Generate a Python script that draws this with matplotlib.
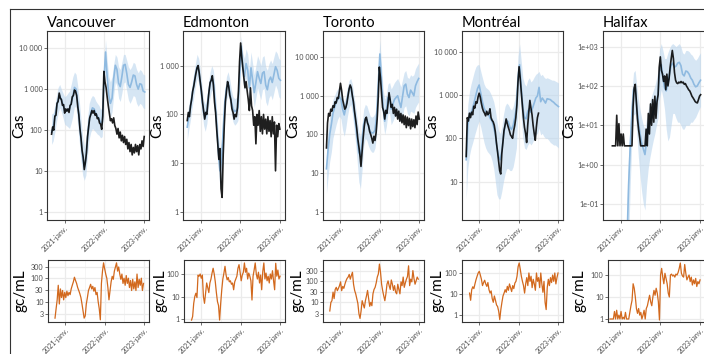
import numpy as np
import pandas as pd
import matplotlib
matplotlib.use("Agg")
import matplotlib.pyplot as plt
import matplotlib.dates as mdates
from matplotlib.lines import Line2D
from matplotlib.ticker import FixedLocator, FixedFormatter, NullLocator

plt.rcParams['font.family'] = ['Lato', 'DejaVu Sans']

cities = ["Vancouver", "Edmonton", "Toronto", "Montréal", "Halifax"]

# ---------------- Vancouver ----------------
van_case_start = "2020-09-03"
van_cases = [80, 120, 100, 220, 230, 450, 500, 800, 600, 560, 400, 420, 260, 330, 290, 330, 270, 400, 430, 650,
             700, 950, 880, 700, 380, 240, 110, 65, 32, 22, 11, 16, 28, 70, 120, 200, 240, 300, 260, 300,
             230, 250, 190, 200, 150, 140, 105, 220, 2700, 1500, 1100, 650, 400, 260, 170, 190, 150, 200, 130, 110,
             80, 110, 65, 90, 55, 75, 50, 70, 45, 60, 35, 50, 30, 45, 25, 38, 28, 45, 30, 42,
             25, 45, 35, 55, 40, 70]
van_fit_start = "2020-09-03"
van_fit = [90, 120, 200, 350, 550, 700, 550, 420, 300, 300, 310, 330, 450, 650, 1100, 1000, 450, 170, 60, 22,
           13, 20, 65, 170, 260, 350, 330, 260, 220, 190, 150, 160, 1500, 8000, 2000, 700, 450, 600, 1800, 3800,
           3000, 1400, 1150, 2000, 3800, 4000, 2400, 1300, 1100, 1500, 2200, 2100, 1300, 1000, 1350, 1300, 900, 850]
van_lo = [45, 55, 90, 160, 260, 350, 280, 200, 140, 130, 120, 110, 150, 220, 380, 350, 130, 50, 18, 8,
          6, 8, 25, 60, 90, 110, 100, 90, 80, 75, 65, 70, 600, 3500, 900, 300, 200, 280, 700, 1500,
          1200, 600, 500, 800, 1400, 1500, 900, 550, 450, 550, 700, 650, 450, 380, 450, 420, 350, 330]
van_hi = [250, 260, 400, 700, 1100, 1300, 1000, 800, 650, 700, 800, 900, 1300, 2000, 2600, 2300, 1200, 500, 180, 70,
          40, 60, 200, 450, 600, 700, 650, 520, 450, 400, 320, 350, 3500, 16000, 5000, 2000, 1500, 2000, 4000, 7000,
          6000, 3500, 3000, 4500, 7000, 7000, 5000, 3500, 3000, 3500, 4500, 4200, 3000, 2500, 3000, 2800, 2300, 2200]
van_ww_start = "2020-09-26"
van_ww = [2, 5, 12, 50, 8, 35, 15, 30, 12, 25, 15, 28, 18, 25, 20, 35, 50, 70, 110, 80,
          60, 40, 30, 22, 15, 8, 4, 2, 2.5, 8, 15, 30, 40, 55, 35, 45, 28, 40, 20, 25,
          10, 5, 1.7, 60, 200, 450, 250, 150, 100, 40, 12, 30, 70, 120, 90, 200, 300, 450, 200, 300,
          150, 90, 150, 60, 100, 50, 130, 60, 100, 40, 80, 30, 90, 35, 70, 30, 150, 40, 90, 50,
          100, 30, 60]

# ---------------- Edmonton ----------------
edm_case_start = "2020-08-31"
edm_cases = [75, 110, 90, 150, 200, 300, 380, 520, 700, 900, 1000, 700, 450, 300, 180, 120, 80, 110, 100, 180,
             300, 450, 500, 620, 400, 180, 110, 50, 25, 12, 20, 3, 2, 15, 60, 180, 300, 470, 380, 250,
             200, 130, 110, 80, 100, 90, 130, 300, 1200, 2900, 1500, 900, 550, 350, 470, 300, 200, 120, 350, 150,
             120, 60, 90, 25, 100, 60, 120, 45, 90, 40, 100, 50, 80, 40, 90, 45, 75, 35, 90, 40,
             70, 7, 60, 35, 65, 50]
edm_fit_start = "2020-08-31"
edm_fit = [55, 90, 140, 250, 400, 650, 950, 800, 450, 200, 110, 85, 120, 250, 420, 580, 450, 180, 60, 18,
           7, 12, 50, 180, 350, 450, 300, 180, 130, 115, 120, 140, 600, 2500, 900, 600, 1100, 800, 350, 900,
           500, 280, 450, 750, 550, 430, 700, 750, 400, 320, 500, 580, 450, 650, 950, 800, 550, 500]
edm_lo = [30, 50, 80, 140, 230, 380, 550, 450, 250, 110, 60, 45, 65, 140, 230, 320, 250, 90, 30, 8,
          3, 5, 25, 100, 200, 250, 170, 100, 70, 60, 65, 75, 350, 1400, 450, 300, 550, 400, 180, 450,
          250, 140, 220, 350, 260, 200, 320, 340, 180, 150, 220, 250, 200, 280, 400, 330, 230, 210]
edm_hi = [100, 160, 250, 420, 700, 1100, 1700, 1400, 800, 380, 200, 160, 220, 450, 750, 1000, 800, 350, 120, 40,
          18, 28, 100, 320, 600, 750, 520, 320, 230, 210, 220, 260, 1100, 4000, 1800, 1400, 2200, 1700, 800, 1900,
          1100, 650, 1000, 1600, 1300, 1000, 1500, 1600, 950, 800, 1100, 1300, 1100, 1500, 2000, 1800, 1400, 1300]
edm_ww_start = "2020-10-01"
edm_ww = [0.9, 1.3, 5, 10, 14, 9, 90, 80, 100, 65, 90, 10, 5, 14, 40, 25, 15, 40, 60, 110,
          180, 100, 45, 15, 6, 4, 0.9, 5, 20, 60, 110, 220, 90, 55, 70, 45, 50, 35, 40, 20,
          45, 60, 80, 180, 260, 120, 50, 90, 120, 310, 120, 180, 60, 110, 80, 50, 7, 80, 150, 310,
          100, 60, 120, 40, 90, 20, 130, 310, 60, 110, 50, 80, 40, 100, 60, 140, 50, 20, 300, 80,
          150, 60, 80]

# ---------------- Toronto ----------------
tor_case_start = "2020-08-24"
tor_cases = [45, 200, 350, 300, 450, 400, 550, 500, 700, 650, 900, 850, 1300, 2100, 1400, 800, 600, 450, 500, 650,
             1000, 1500, 1900, 1600, 1000, 700, 400, 250, 150, 80, 50, 30, 15, 35, 80, 160, 250, 280, 200, 170,
             120, 100, 80, 60, 90, 70, 110, 250, 900, 5500, 3000, 1200, 500, 400, 250, 420, 350, 600, 1200, 800,
             500, 600, 350, 500, 300, 450, 250, 400, 220, 350, 200, 320, 180, 300, 150, 280, 170, 260, 140, 250,
             160, 240, 150, 300, 180, 380, 250]
tor_fit_start = "2020-08-24"
tor_fit = [13, 40, 100, 180, 350, 500, 700, 800, 950, 800, 450, 320, 500, 900, 1500, 1700, 1000, 450, 200, 80,
           35, 27, 60, 180, 260, 240, 160, 120, 110, 110, 130, 300, 2000, 12000, 2500, 500, 220, 400, 900, 900,
           450, 600, 800, 900, 1000, 700, 500, 950, 1800, 2000, 1100, 900, 1400, 1200, 1000, 1800, 2300, 2800]
tor_lo = [3, 8, 20, 35, 80, 120, 180, 250, 300, 250, 130, 90, 150, 300, 500, 600, 350, 150, 60, 20,
          6, 4, 12, 50, 80, 70, 50, 40, 35, 35, 45, 100, 700, 4000, 1000, 200, 100, 160, 350, 350,
          180, 220, 280, 300, 320, 250, 200, 300, 500, 550, 350, 300, 400, 380, 350, 500, 600, 700]
tor_hi = [50, 150, 300, 500, 800, 1000, 1300, 1500, 1800, 1600, 1000, 700, 1000, 1700, 2500, 2800, 2000, 1000, 500, 250,
          120, 90, 180, 450, 600, 550, 400, 300, 280, 300, 350, 700, 4500, 28000, 6000, 1500, 800, 1100, 2000, 2200,
          1500, 1800, 2200, 2500, 2800, 2200, 1700, 2600, 4000, 4500, 3000, 2800, 3500, 3200, 3500, 5000, 6000, 7000]
tor_ww_start = "2020-09-24"
tor_ww = [4, 10, 12, 30, 15, 40, 50, 35, 45, 60, 90, 35, 55, 45, 70, 100, 130, 150, 200, 120,
          180, 250, 70, 36, 25, 15, 9, 3, 1.8, 4, 12, 8, 5.5, 12, 20, 36, 15, 6.6, 10, 7,
          25, 40, 50, 80, 150, 210, 600, 250, 70, 35, 20, 12, 25, 70, 100, 60, 40, 110, 70, 36,
          60, 30, 25, 70, 40, 25, 90, 60, 150, 50, 80, 120, 160, 500, 60, 120, 90, 300, 130, 70,
          100, 150, 120]

# ---------------- Montréal ----------------
mtl_case_start = "2020-08-31"
mtl_cases = [38, 300, 250, 380, 300, 400, 350, 550, 500, 700, 650, 900, 1100, 900, 650, 500, 420, 380, 330, 420,
             350, 380, 480, 300, 260, 240, 200, 140, 80, 50, 30, 18, 15, 45, 80, 150, 200, 280, 220, 180,
             150, 120, 110, 100, 150, 200, 300, 600, 2000, 4500, 2500, 1200, 600, 300, 180, 130, 80, 200, 400, 750,
             500, 350, 200, 130, 90, 180, 300, 380]
mtl_fit_start = "2020-08-31"
mtl_fit = [32, 200, 330, 380, 500, 700, 1000, 1400, 1700, 1100, 700, 500, 420, 380, 340, 280, 250, 180, 120, 60,
           38, 32, 50, 110, 200, 260, 240, 180, 160, 200, 300, 500, 2500, 5000, 1500, 500, 300, 280, 420, 480,
           400, 500, 650, 850, 950, 1500, 700, 850, 750, 650, 820, 800, 780, 720, 680, 620, 580, 540]
mtl_lo = [4, 20, 40, 60, 80, 110, 150, 200, 250, 180, 120, 80, 60, 50, 45, 40, 30, 20, 10, 5,
          4, 4, 6, 10, 15, 20, 20, 18, 18, 22, 35, 60, 400, 1200, 300, 100, 60, 55, 70, 80,
          70, 80, 100, 120, 130, 170, 120, 130, 110, 100, 100, 90, 80, 75, 70, 70, 65, 60]
mtl_hi = [90, 600, 1200, 1800, 2500, 3500, 4500, 5000, 5000, 3500, 2500, 1800, 1500, 1400, 1300, 1100, 900, 700, 450, 250,
          150, 130, 180, 350, 550, 650, 600, 500, 450, 550, 800, 1500, 8000, 15000, 6000, 2500, 1800, 1600, 2200, 2500,
          2000, 2200, 2600, 3000, 3200, 3500, 2800, 3000, 2600, 2400, 2500, 2400, 2300, 2200, 2200, 2100, 2000, 1900]
mtl_ww_start = "2020-10-01"
mtl_ww = [11, 5, 16, 22, 18, 30, 48, 70, 100, 120, 80, 50, 25, 35, 45, 30, 23, 35, 16, 11,
          14, 6, 4, 8, 5, 3, 2.5, 1.5, 0.6, 1.8, 4, 8, 11, 16, 12, 23, 15, 30, 20, 13,
          25, 18, 33, 40, 70, 200, 300, 150, 70, 40, 25, 11, 30, 60, 25, 100, 40, 70, 20, 50,
          30, 15, 100, 40, 60, 20, 100, 30, 12, 40, 4, 1.8, 20, 50, 25, 60, 35, 80, 40, 100,
          30, 60, 100]

# ---------------- Halifax ----------------
hfx_case_start = "2020-10-17"
hfx_cases = [3, 3, 3, 3, 18, 3, 11, 3, 6, 3, 6, 3, 3, 3, 3, 3, 3, 3, 3, 30,
             90, 110, 40, 15, 8, 5, 3, 3, 3, 3, 3, 8, 3, 20, 6, 35, 10, 45, 12, 55,
             15, 40, 60, 300, 550, 250, 200, 130, 180, 80, 200, 100, 150, 300, 500, 800, 500, 220, 140, 120,
             115, 125, 120, 130, 120, 125, 110, 115, 100, 90, 80, 75, 65, 55, 50, 45, 40, 38, 37, 45,
             55, 60]
hfx_fit_start = "2021-02-28"
hfx_fit = [0.01, 0.3, 3, 20, 80, 90, 30, 12, 6, 3.5, 2.5, 1.8, 4, 8, 12, 16, 22, 30, 40, 60,
           250, 350, 160, 90, 75, 120, 200, 330, 380, 300, 320, 380, 400, 330, 200, 180, 240, 230, 200, 160,
           140, 110, 95, 100, 120, 140]
hfx_lo = [0.001, 0.01, 0.3, 4, 18, 20, 6, 1.5, 0.5, 0.2, 0.1, 0.07, 0.3, 0.8, 1.5, 2.5, 4, 6, 10, 15,
          50, 80, 50, 25, 8, 4, 5, 10, 20, 20, 15, 12, 12, 10, 8, 8, 10, 10, 10, 12,
          12, 14, 16, 20, 25, 30]
hfx_hi = [0.1, 2, 12, 70, 220, 250, 100, 45, 25, 15, 10, 8, 15, 25, 40, 55, 75, 100, 150, 250,
          900, 1200, 800, 500, 500, 700, 900, 1100, 1200, 1100, 1000, 1100, 1200, 1000, 700, 650, 800, 800, 750, 650,
          600, 500, 450, 500, 600, 700]
hfx_ww_start = "2020-10-02"
hfx_ww = [1, 1, 1, 1, 2.2, 1, 2.5, 1, 1.5, 1, 2.2, 1, 1.2, 1, 2, 1, 1, 1, 2, 4,
          7, 40, 25, 10, 3, 1.8, 3, 1.5, 2, 1, 1.5, 2.5, 1, 3, 4, 7, 12, 6, 4, 10,
          20, 12, 25, 15, 6, 0.9, 100, 200, 80, 40, 120, 70, 40, 15, 10, 100, 110, 90, 100, 80,
          110, 100, 130, 200, 350, 120, 90, 80, 300, 120, 60, 80, 100, 50, 80, 35, 60, 40, 70, 30,
          50, 40, 60]

# axis ticks and limits
top_ticks = [[1, 10, 100, 1000, 10000], [1, 10, 100, 1000], [1, 10, 100, 1000, 10000],
             [10, 100, 1000, 10000], [0.1, 1, 10, 100, 1000]]
top_labels = [["1", "10", "100", "1 000", "10 000"], ["1", "10", "100", "1 000"],
              ["1", "10", "100", "1 000", "10 000"], ["10", "100", "1 000", "10 000"],
              ["1e-01", "1e+00", "1e+01", "1e+02", "1e+03"]]
top_ylim = [(0.65, 26000), (0.69, 5100), (0.62, 47000), (1.3, 30000), (0.039, 2500)]

bot_ticks = [[3, 10, 30, 100, 300], [1, 10, 100], [3, 10, 30, 100, 300], [1, 10, 100], [1, 10, 100]]
bot_labels = [["3", "10", "30", "100", "300"], ["1", "10", "100"], ["3", "10", "30", "100", "300"],
              ["1", "10", "100"], ["1", "10", "100"]]
bot_ylim = [(1.37, 595), (0.74, 419), (1.23, 930), (0.46, 416), (0.73, 481)]

year_ticks = ["2021-01-01", "2022-01-01", "2023-01-01"]
year_labels = ["2021-janv.", "2022-janv.", "2023-janv."]
mid_ticks = ["2021-07-01", "2022-07-01"]

case_data = [
    (van_case_start, van_cases, van_fit_start, van_fit, van_lo, van_hi),
    (edm_case_start, edm_cases, edm_fit_start, edm_fit, edm_lo, edm_hi),
    (tor_case_start, tor_cases, tor_fit_start, tor_fit, tor_lo, tor_hi),
    (mtl_case_start, mtl_cases, mtl_fit_start, mtl_fit, mtl_lo, mtl_hi),
    (hfx_case_start, hfx_cases, hfx_fit_start, hfx_fit, hfx_lo, hfx_hi),
]
ww_data = [(van_ww_start, van_ww), (edm_ww_start, edm_ww), (tor_ww_start, tor_ww),
           (mtl_ww_start, mtl_ww), (hfx_ww_start, hfx_ww)]

W, H = 704, 354
fig = plt.figure(figsize=(W / 100, H / 100), dpi=100)

# panel positions in pixels
top_left = [47, 183, 323, 462, 603]
top_w = [102, 102, 101, 101, 102]
bot_left = [48, 184, 323, 462, 608]
bot_w = [101, 101, 101, 101, 97]
xlim_top = [("2020-07-23", "2023-02-14")] * 5
xlim_bot = [("2020-07-23", "2023-02-14")] * 4 + [("2020-09-13", "2023-02-14")]
# y-label positions (axes fraction)
cas_x = [-0.20, -0.18, -0.23, -0.23, -0.26]
gc_x = [-0.20, -0.16, -0.18, -0.17, -0.22]


def style(ax, ticks, labels, ylim, xlim):
    ax.set_yscale('log')
    ax.set_ylim(*ylim)
    ax.set_xlim(pd.Timestamp(xlim[0]), pd.Timestamp(xlim[1]))
    ax.yaxis.set_major_locator(FixedLocator(ticks))
    ax.yaxis.set_major_formatter(FixedFormatter(labels))
    ax.yaxis.set_minor_locator(NullLocator())
    ax.xaxis.set_major_locator(FixedLocator(mdates.date2num(pd.to_datetime(year_ticks))))
    ax.xaxis.set_major_formatter(FixedFormatter(year_labels))
    ax.xaxis.set_minor_locator(FixedLocator(mdates.date2num(pd.to_datetime(mid_ticks))))
    ax.grid(True, which='major', color='#ebebeb', lw=0.9)
    ax.grid(True, which='minor', axis='x', color='#f2f2f2', lw=0.5)
    ax.set_axisbelow(True)
    for s in ax.spines.values():
        s.set_color('#333333')
        s.set_linewidth(0.8)
    ax.tick_params(axis='both', which='major', length=2, width=0.5, color='#333333',
                   labelsize=5.2, labelcolor='#4d4d4d', pad=1.2)
    ax.tick_params(axis='x', which='minor', length=0)
    plt.setp(ax.get_xticklabels(), rotation=45, ha='right', rotation_mode='anchor', fontsize=5)


for i, city in enumerate(cities):
    cs, cases, fs, fit, lo, hi = case_data[i]
    ax = fig.add_axes([top_left[i] / W, (H - 220) / H, top_w[i] / W, 189 / H])
    t_fit = pd.date_range(fs, periods=len(fit), freq="15D")
    t_case = pd.date_range(cs, periods=len(cases), freq="10D")
    ax.fill_between(t_fit, lo, hi, color='#bcd6ee', alpha=0.6, lw=0)
    ax.plot(t_fit, fit, color='#8fbae0', lw=1.2)
    ax.plot(t_case, cases, color='black', lw=1.2, alpha=0.88)
    style(ax, top_ticks[i], top_labels[i], top_ylim[i], xlim_top[i])
    ax.set_title(city, loc='left', fontsize=10.5, pad=3)
    ax.set_ylabel("Cas", fontsize=11)
    ax.yaxis.set_label_coords(cas_x[i], 0.5)

    ws, ww = ww_data[i]
    axb = fig.add_axes([bot_left[i] / W, (H - 322) / H, bot_w[i] / W, 62 / H])
    t_ww = pd.date_range(ws, periods=len(ww), freq="10D")
    axb.plot(t_ww, ww, color='#d2691e', lw=0.9)
    style(axb, bot_ticks[i], bot_labels[i], bot_ylim[i], xlim_bot[i])
    axb.set_ylabel("gc/mL", fontsize=11)
    axb.yaxis.set_label_coords(gc_x[i], 0.5)

# outer frame
fig.add_artist(Line2D([9.5 / W, 9.5 / W], [0, 1 - 8.5 / H], transform=fig.transFigure,
                      color='#333333', lw=0.8))
fig.add_artist(Line2D([9.5 / W, 1], [1 - 8.5 / H, 1 - 8.5 / H], transform=fig.transFigure,
                      color='#333333', lw=0.8))

fig.savefig("out.png", dpi=100)
